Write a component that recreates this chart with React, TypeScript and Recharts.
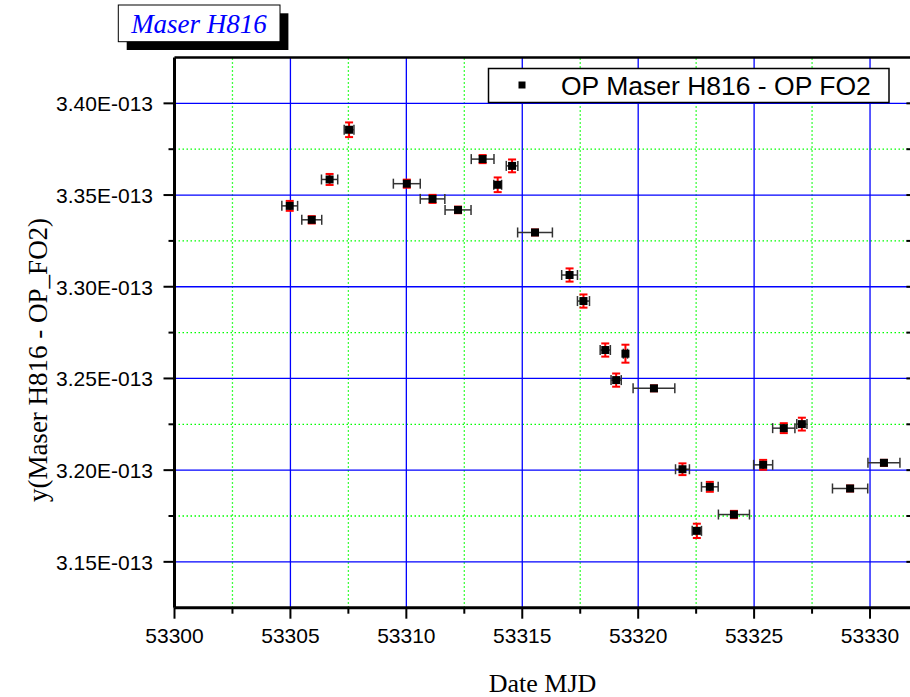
import React from 'react';
import { ScatterChart, Scatter, XAxis, YAxis, ErrorBar, ReferenceLine } from 'recharts';

// ---- data (MJD, value in units of 1e-13, errors) ----
const mjd = [
  53304.97, 53305.92, 53306.69, 53307.53, 53310.02, 53311.13, 53312.23, 53313.29,
  53313.94, 53314.56, 53315.55, 53317.04, 53317.64, 53318.58, 53319.45, 53319.05,
  53320.68, 53321.91, 53322.53, 53323.09, 53324.13, 53325.39, 53326.28, 53327.06,
  53329.14, 53330.6,
];
const yValues = [
  3.3441, 3.3365, 3.3585, 3.3856, 3.3562, 3.3479, 3.3419, 3.3696,
  3.3556, 3.3659, 3.3296, 3.3064, 3.2922, 3.2655, 3.2635, 3.2491,
  3.2446, 3.2005, 3.1669, 3.1909, 3.1758, 3.2029, 3.2229, 3.2251,
  3.19, 3.204,
];
const mjdErrors = [
  0.34, 0.43, 0.35, 0.21, 0.58, 0.53, 0.56, 0.49,
  0.17, 0.25, 0.75, 0.34, 0.26, 0.22, 0.09, 0.22,
  0.9, 0.3, 0.2, 0.36, 0.67, 0.41, 0.48, 0.22,
  0.76, 0.69,
];
const yErrors = [
  0.0027, 0.002, 0.003, 0.004, 0.0022, 0.0022, 0.0018, 0.0022,
  0.004, 0.0035, 0.0016, 0.0036, 0.0036, 0.0036, 0.0049, 0.0036,
  0.0016, 0.0032, 0.0039, 0.0027, 0.002, 0.0027, 0.0027, 0.0035,
  0.0016, 0.0016,
];

const xMajorTicks = [53300, 53305, 53310, 53315, 53320, 53325, 53330];
const xMinorTicks = [53302.5, 53307.5, 53312.5, 53317.5, 53322.5, 53327.5];
const yMajorTicks = [3.15, 3.2, 3.25, 3.3, 3.35, 3.4];
const yMinorTicks = [3.175, 3.225, 3.275, 3.325, 3.375];
const xDomain = [53300, 53332];
const yDomain = [3.125, 3.425];

const seriesName = 'OP Maser H816 - OP FO2';
const chartTitle = 'Maser H816';
const xTitle = 'Date MJD';
const yTitle = 'y(Maser H816 - OP_FO2)';

const data = mjd.map((x, i) => ({ x, y: yValues[i], xe: mjdErrors[i], ye: yErrors[i] }));
const xAllTicks = [...xMajorTicks, ...xMinorTicks].sort((a, b) => a - b);
const yAllTicks = [...yMajorTicks, ...yMinorTicks].sort((a, b) => a - b);

const SANS = '"Liberation Sans", Arial, sans-serif';
const SERIF = '"Liberation Serif", "Times New Roman", serif';

const fmtY = (v: number) => `${v.toFixed(2)}E-013`;

const BottomTick = (props: any) => {
  const { x, y, payload } = props;
  const major = xMajorTicks.includes(payload.value);
  return (
    <g>
      <line x1={x} y1={y} x2={x} y2={y + (major ? 11 : 6)} stroke="#000" strokeWidth={2} />
      {major && (
        <text x={x} y={y + 35.5} textAnchor="middle" fontSize={21} fontFamily={SANS} fill="#000">
          {payload.value}
        </text>
      )}
    </g>
  );
};

const TopTick = (props: any) => {
  const { x, y } = props;
  return <line x1={x} y1={y} x2={x} y2={y + 10} stroke="#000" strokeWidth={2} />;
};

const LeftTick = (props: any) => {
  const { x, y, payload } = props;
  const major = yMajorTicks.includes(payload.value);
  return (
    <g>
      <line x1={x - (major ? 11 : 6)} y1={y} x2={x} y2={y} stroke="#000" strokeWidth={2} />
      {major && (
        <text x={x - 21.5} y={y + 8} textAnchor="end" fontSize={21} fontFamily={SANS} fill="#000">
          {fmtY(payload.value)}
        </text>
      )}
    </g>
  );
};

const RightTick = (props: any) => {
  const { x, y } = props;
  return <line x1={x - 10} y1={y} x2={x} y2={y} stroke="#000" strokeWidth={2} />;
};

const SquareShape = (props: any) => {
  const { cx, cy } = props;
  return <rect x={cx - 4} y={cy - 4} width={8} height={8} fill="#000" />;
};

export default function App() {
  return (
    <div
      style={{
        position: 'fixed',
        left: 0,
        top: 0,
        width: 910,
        height: 697,
        overflow: 'hidden',
        background: '#fff',
      }}
    >
      <ScatterChart width={930} height={697} margin={{ top: 0, right: 0, bottom: 0, left: 0 }}>
        {xMinorTicks.map((v) => (
          <ReferenceLine key={'xm' + v} x={v} stroke="#00ff00" strokeWidth={1.3} strokeDasharray="1.5 2.5" />
        ))}
        {yMinorTicks.map((v) => (
          <ReferenceLine key={'ym' + v} y={v} stroke="#00ff00" strokeWidth={1.3} strokeDasharray="1.5 2.5" />
        ))}
        {xMajorTicks.slice(1).map((v) => (
          <ReferenceLine key={'xM' + v} x={v} stroke="#0000ff" strokeWidth={1.3} />
        ))}
        {yMajorTicks.map((v) => (
          <ReferenceLine key={'yM' + v} y={v} stroke="#0000ff" strokeWidth={1.3} />
        ))}
        <XAxis
          dataKey="x"
          type="number"
          domain={xDomain}
          ticks={xAllTicks}
          interval={0}
          allowDataOverflow
          height={89.3}
          tickSize={0}
          tickMargin={0}
          tickLine={false}
          axisLine={{ stroke: '#000', strokeWidth: 3 }}
          tick={(p: any) => <BottomTick {...p} />}
          label={() => (
            <text x={542.5} y={692} textAnchor="middle" fontSize={26} fontFamily={SERIF} fill="#000">
              {xTitle}
            </text>
          )}
        />
        <XAxis
          xAxisId="top"
          orientation="top"
          type="number"
          domain={xDomain}
          ticks={xAllTicks}
          interval={0}
          allowDataOverflow
          height={57.5}
          tickSize={0}
          tickMargin={0}
          tickLine={false}
          axisLine={{ stroke: '#000', strokeWidth: 2.5 }}
          tick={(p: any) => <TopTick {...p} />}
        />
        <YAxis
          dataKey="y"
          type="number"
          domain={yDomain}
          ticks={yAllTicks}
          interval={0}
          allowDataOverflow
          width={174.5}
          tickSize={0}
          tickMargin={0}
          tickLine={false}
          axisLine={{ stroke: '#000', strokeWidth: 3 }}
          tick={(p: any) => <LeftTick {...p} />}
          label={() => (
            <text
              x={0}
              y={0}
              transform="translate(47 360) rotate(-90)"
              textAnchor="middle"
              fontSize={27}
              fontFamily={SERIF}
              fill="#000"
            >
              {yTitle}
            </text>
          )}
        />
        <YAxis
          yAxisId="right"
          orientation="right"
          type="number"
          domain={yDomain}
          ticks={yAllTicks}
          interval={0}
          allowDataOverflow
          width={13.6}
          tickSize={0}
          tickMargin={0}
          tickLine={false}
          axisLine={{ stroke: '#000', strokeWidth: 2.5 }}
          tick={(p: any) => <RightTick {...p} />}
        />
        <Scatter data={data} isAnimationActive={false} shape={SquareShape} name={seriesName}>
          <ErrorBar dataKey="xe" direction="x" width={5} stroke="#333" strokeWidth={1.5} isAnimationActive={false} />
          <ErrorBar dataKey="ye" direction="y" width={4} stroke="#ff0000" strokeWidth={2} isAnimationActive={false} />
        </Scatter>
      </ScatterChart>
      <svg
        width={910}
        height={697}
        style={{ position: 'absolute', left: 0, top: 0, pointerEvents: 'none' }}
      >
        {/* title box */}
        <rect x={126.7} y={13.3} width={161.7} height={36.7} fill="#000" />
        <rect x={118.3} y={5} width={161.7} height={36.7} fill="#fff" stroke="#000" strokeWidth={1} />
        <text x={199} y={33} textAnchor="middle" fontSize={27} fontStyle="italic" fontFamily={SERIF} fill="#0000ff">
          {chartTitle}
        </text>
        {/* legend */}
        <rect x={488.5} y={68.5} width={400.5} height={34} fill="#fff" stroke="#000" strokeWidth={1.5} />
        <rect x={518.5} y={81.5} width={7} height={7} fill="#000" />
        <text x={561} y={95} fontSize={26.5} fontFamily={SANS} fill="#000">
          {seriesName}
        </text>
      </svg>
    </div>
  );
}
